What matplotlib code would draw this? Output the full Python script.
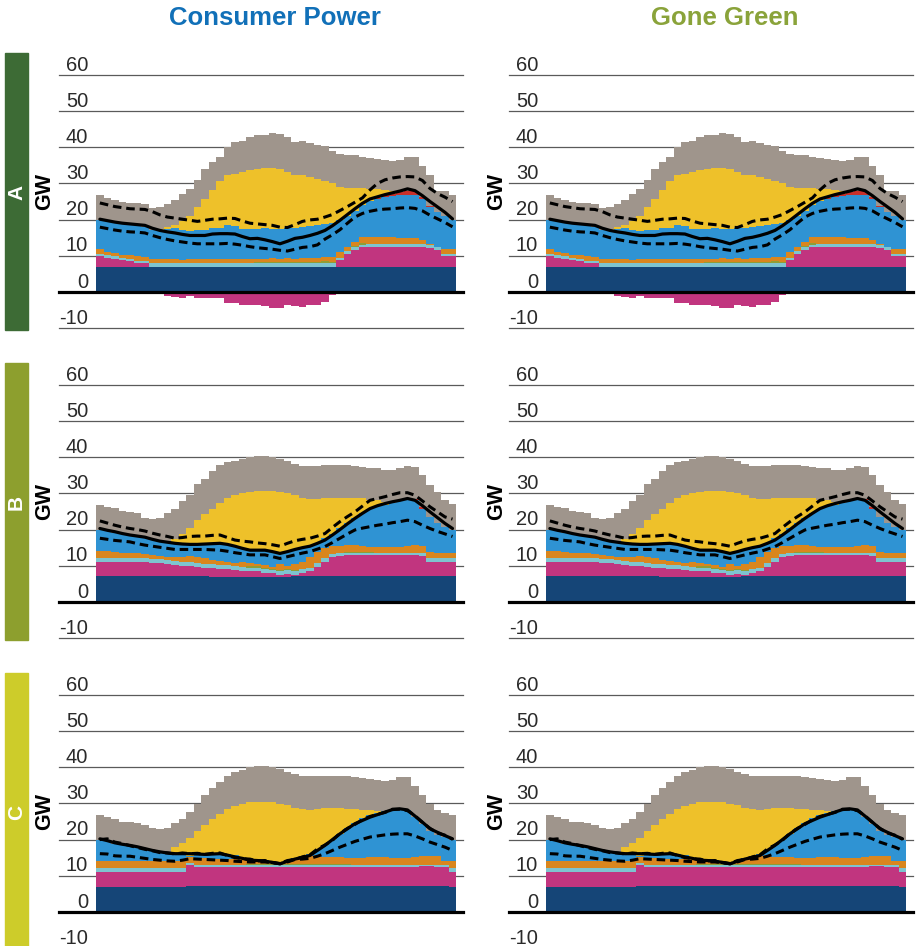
import numpy as np
import matplotlib
matplotlib.use("Agg")
from matplotlib import pyplot as plt
from matplotlib.patches import Rectangle

plt.rcParams["font.family"] = ["Liberation Sans", "DejaVu Sans"]

# ---- half-hour settlement periods
periods = np.arange(48)

scenarios = ["Consumer Power", "Gone Green"]
scenario_colors = ["#1170b8", "#8aa33a"]
rows = ["A", "B", "C"]
row_colors = ["#3d6b35", "#8d9f2e", "#cdcc2a"]
yticks = [-10, 0, 10, 20, 30, 40, 50, 60]

colors = {
    "nuclear": "#154577",
    "storage": "#c1357f",
    "interconnect": "#7ec4cf",
    "other": "#8f9d36",
    "gas": "#d9861e",
    "wind": "#2f93d3",
    "red": "#c8302a",
    "solar": "#eec12a",
    "extra": "#9f958c",
}

# ---------------- row A (tops of each layer, GW)
a_nuclear = [7.0] * 48
a_storage = [9.8, 9.5, 9.2, 8.7, 8.6, 8.0, 8.0] + [0] * 25 + \
    [8.7, 10.6, 11.7, 12.3, 12.4, 12.4, 12.4, 12.4, 12.4, 12.4, 12.4, 12.4, 12.2, 11.5, 9.8, 9.8]
a_interconnect = [10.4, 10.1, 9.8, 9.3, 9.2, 8.6, 8.6] + [8.0] * 25 + \
    [9.5, 11.4, 12.5, 13.1, 13.2, 13.2, 13.2, 13.2, 13.2, 13.2, 13.2, 13.2, 13.0, 12.3, 10.6, 10.6]
a_other = [0] * 21 + [0.2, 0.3, 0.3, 0.3, 0.2, 0.2, 0.3, 0.2, 0.3, 0.4, 0.2] + [0] * 2 + [0.3, 0.3] + [0] * 12
a_gas = [11.8, 11.0, 10.7, 10.2, 10.1, 9.9, 9.7, 9.0, 9.0, 9.1, 9.0, 8.9, 9.0, 9.1, 9.0, 9.0,
         9.1, 9.0, 9.2, 9.1, 9.0, 9.1, 9.2, 9.3, 9.2, 9.3, 9.2, 9.3, 9.4, 9.5, 9.6, 9.6,
         10.9, 12.4, 13.8, 15.3, 15.3, 15.2, 15.1, 15.1, 15.0, 15.0, 14.8, 14.4, 13.2, 12.3, 11.8, 11.8]
a_wind = [20.0, 19.6, 19.2, 19.0, 18.9, 18.4, 17.9, 17.2, 17.0, 17.5, 17.7, 17.0, 16.8, 17.0, 17.2, 17.7,
          17.6, 18.4, 18.1, 17.5, 17.5, 17.5, 17.7, 17.5, 17.5, 17.7, 17.7, 17.9, 18.1, 18.4, 18.9, 19.0,
          19.8, 21.1, 22.5, 23.9, 25.1, 25.7, 26.2, 26.4, 26.7, 26.9, 26.9, 25.7, 23.4, 22.1, 21.1, 20.0]
a_red = [0] * 37 + [0.3, 0.5, 0.7, 0.9, 1.0, 1.0, 0.6, 0.3] + [0] * 3
a_solar = [0] * 8 + [17.3, 17.9, 18.5, 19.6, 21.0, 23.6, 25.7, 28.3, 30.8, 32.2, 32.5, 33.2, 33.6, 33.9,
                     34.3, 34.3, 34.1, 33.3, 32.4, 32.2, 31.9, 31.3, 30.8, 30.2, 29.0, 28.8, 28.7, 28.6,
                     28.5, 28.4, 28.3, 28.0] + [0] * 8
a_total = [26.7, 26.0, 25.3, 25.0, 24.7, 24.6, 24.4, 23.3, 23.6, 24.2, 25.5, 27.1, 28.5, 31.0, 34.0, 35.9,
           37.4, 40.2, 41.6, 41.8, 42.9, 43.4, 43.5, 44.0, 43.7, 42.8, 41.6, 41.7, 41.2, 40.7, 40.3, 38.9,
           38.2, 38.0, 38.0, 37.4, 37.1, 36.8, 36.6, 36.3, 36.6, 37.4, 37.2, 34.9, 32.2, 28.0, 27.9, 26.9]
a_negative = [0] * 8 + [-0.6, -1.2, -1.4, -1.8, -1.2, -1.8, -1.8, -1.8, -1.8, -3.0, -3.0, -3.7, -3.5, -3.7,
                        -3.9, -4.4, -4.6, -3.7, -3.9, -4.1, -3.7, -3.5, -2.8, -0.9] + [0] * 16
a_demand = [20.1, 19.7, 19.3, 19.0, 18.8, 18.6, 18.4, 17.6, 17.0, 16.6, 16.3, 15.9, 15.6, 15.6, 15.6, 16.0,
            16.1, 16.1, 16.0, 15.3, 14.7, 14.8, 14.4, 13.9, 13.3, 14.0, 14.8, 15.1, 15.6, 16.2, 17.0, 18.3,
            19.8, 21.4, 23.0, 24.5, 25.7, 26.3, 26.9, 27.4, 27.9, 28.5, 28.0, 26.6, 25.0, 23.5, 22.0, 20.2]
a_upper = [24.6, 24.1, 23.6, 23.3, 23.0, 22.9, 22.8, 22.2, 21.3, 20.7, 20.4, 20.1, 19.8, 19.5, 19.8, 20.1,
           20.2, 20.4, 20.3, 19.6, 19.0, 18.8, 18.6, 18.4, 17.9, 17.8, 18.6, 19.5, 19.9, 20.1, 20.7, 21.4,
           22.5, 23.6, 24.8, 26.0, 28.2, 30.0, 31.0, 31.5, 31.8, 31.9, 31.8, 30.8, 28.6, 27.2, 26.2, 25.0]
a_lower = [17.9, 17.5, 17.1, 16.8, 16.6, 16.5, 16.3, 15.6, 15.0, 14.5, 14.1, 13.8, 13.5, 13.3, 13.3, 13.3,
           13.3, 13.4, 13.2, 12.9, 12.5, 12.2, 12.0, 11.8, 11.5, 11.3, 11.8, 12.3, 12.5, 13.0, 14.6, 15.8,
           17.2, 19.0, 20.7, 21.7, 22.3, 22.7, 22.9, 23.0, 23.2, 23.3, 23.1, 22.4, 21.2, 20.2, 19.2, 18.0]

# ---------------- row B
b_nuclear = [7.2] * 15 + [7.0] * 11 + [7.2] * 22
b_storage = [11.1, 11.1, 11.0, 11.0, 11.0, 11.0, 10.9, 10.8, 10.7, 10.5, 10.2, 9.9, 9.9, 9.7, 9.5, 9.3,
             9.0, 9.0, 8.8, 8.6, 8.4, 8.4, 8.1, 7.9, 7.4, 7.7, 7.4, 7.9, 8.4, 9.6, 11.1, 12.5,
             12.7, 12.9, 12.9, 12.9, 12.9, 12.9, 12.9, 12.9, 12.9, 12.9, 12.9, 12.7, 11.1, 11.1, 11.1, 11.1]
b_interconnect = [12.2, 12.2, 12.1, 12.1, 12.1, 12.1, 12.0, 11.9, 11.8, 11.6, 11.3, 11.0, 11.0, 10.8, 10.6, 10.4,
                  10.1, 10.1, 9.9, 9.7, 9.5, 9.5, 9.2, 8.9, 8.5, 8.8, 8.5, 9.0, 9.5, 10.7, 12.2, 13.3,
                  13.4, 13.6, 13.6, 13.6, 13.6, 13.6, 13.6, 13.6, 13.6, 13.6, 13.6, 13.4, 12.2, 12.2, 12.2, 12.2]
b_other = [0] * 20 + [0.3, 0.3, 0.3, 0.2, 0.3, 0.3, 0.2, 0.2] + [0] * 5 + [0.2, 0.2, 0.2, 0.2] + [0] * 11
b_gas = [14.1, 14.0, 13.7, 13.4, 13.4, 13.4, 13.2, 13.0, 12.7, 12.5, 12.3, 12.5, 12.7, 12.3, 12.0, 11.6,
         11.4, 11.1, 10.8, 11.1, 10.8, 10.5, 10.2, 9.7, 10.5, 9.9, 10.5, 11.1, 12.5, 13.9, 14.8, 15.4,
         15.4, 15.6, 15.6, 15.4, 15.2, 15.1, 15.1, 15.1, 15.1, 15.4, 15.7, 15.4, 13.9, 13.4, 13.4, 13.4]
b_wind = [20.0, 19.7, 19.1, 18.8, 18.7, 18.5, 17.7, 17.1, 16.6, 16.3, 16.2, 16.0, 15.7, 15.7, 15.9, 16.0,
          16.2, 16.0, 15.4, 14.8, 14.3, 14.3, 14.1, 13.9, 13.4, 14.1, 14.5, 14.8, 15.4, 16.4, 17.6, 18.9,
          20.3, 21.7, 23.1, 24.5, 25.8, 26.5, 26.9, 27.4, 28.0, 28.3, 28.1, 25.8, 23.5, 21.9, 20.8, 20.0]
b_red = [0] * 40 + [0.2, 0.3, 0.3, 0.4] + [0] * 4
b_solar = [0] * 9 + [16.6, 17.5, 18.9, 20.4, 22.6, 24.3, 25.8, 27.4, 28.6, 29.5, 30.0, 30.4, 30.7, 30.7,
                     30.6, 30.4, 30.2, 29.7, 28.8, 28.4, 28.4, 28.6, 28.8, 28.8, 28.8, 28.6, 28.6, 28.3,
                     28.1, 27.7] + [0] * 9
b_total = [26.8, 26.3, 25.9, 25.1, 24.9, 24.6, 23.3, 22.8, 23.3, 24.6, 25.8, 27.9, 29.7, 32.6, 34.1, 36.1,
           37.8, 38.7, 39.0, 39.6, 40.1, 40.3, 40.3, 40.1, 39.4, 39.0, 38.1, 37.5, 37.5, 37.5, 37.8, 37.8,
           37.8, 37.8, 37.6, 37.3, 37.0, 36.9, 36.6, 36.4, 36.9, 37.5, 37.3, 35.0, 32.3, 30.4, 28.1, 27.0]
b_negative = [0] * 48
b_demand = [20.3, 19.8, 19.4, 18.9, 18.5, 18.2, 17.9, 17.3, 16.8, 16.5, 16.2, 16.0, 15.9, 15.9, 16.0, 16.1,
            16.2, 15.9, 15.4, 14.8, 14.3, 14.3, 14.3, 13.9, 13.4, 13.9, 14.5, 15.0, 15.4, 16.2, 17.1, 18.5,
            20.0, 21.6, 23.1, 24.5, 25.8, 26.6, 27.2, 27.7, 28.1, 28.6, 28.1, 26.6, 24.9, 23.3, 21.7, 20.3]
b_upper = [22.4, 21.8, 21.2, 20.7, 20.3, 20.0, 19.6, 19.0, 18.5, 18.1, 17.6, 17.8, 18.1, 18.2, 18.2, 18.4,
           18.5, 17.8, 17.1, 16.8, 16.6, 16.3, 16.1, 15.8, 15.4, 16.2, 16.9, 17.3, 17.6, 18.2, 18.9, 20.6,
           22.2, 23.6, 24.9, 26.5, 28.1, 28.6, 29.1, 29.7, 30.2, 30.2, 29.5, 27.9, 26.3, 24.9, 23.5, 22.9]
b_lower = [17.6, 17.3, 17.0, 16.8, 16.6, 16.1, 15.7, 15.4, 15.1, 14.8, 14.5, 14.5, 14.5, 14.5, 14.5, 14.4,
           14.3, 14.0, 13.6, 13.3, 13.0, 13.0, 13.0, 12.5, 12.0, 12.5, 13.0, 13.5, 13.9, 14.6, 15.3, 16.4,
           17.6, 18.8, 19.9, 20.4, 20.8, 21.2, 21.5, 21.9, 22.2, 22.6, 22.2, 21.2, 20.3, 19.5, 18.8, 18.1]

# ---------------- row C
c_nuclear = [6.9] * 12 + [7.2] * 35 + [6.9]
c_storage = [11.0] * 12 + [12.9] + [12.4] * 30 + [12.6, 12.6, 12.4, 12.4] + [11.0]
c_interconnect = [12.1] * 12 + [13.5] + [13.1] * 34 + [12.1]
c_other = [0] * 20 + [0.2] * 14 + [0] * 14
c_gas = [14.0] * 12 + [15.2, 14.8, 14.8, 14.7, 14.7, 14.6, 14.6, 14.5, 14.4, 14.3, 14.1, 13.8, 13.6, 13.9,
                       14.6, 15.0, 15.4, 15.6, 15.2, 15.3, 15.2, 15.0, 15.0, 15.0, 15.1, 15.1, 15.1, 15.0,
                       15.0, 15.0, 15.1, 15.4, 15.4, 15.4] + [14.0, 14.0]
c_wind = [20.0, 19.5, 18.9, 18.4, 18.2, 18.1, 17.5, 16.7, 16.3, 16.1, 15.8, 15.6, 15.4, 15.6, 15.6, 15.8,
          16.1, 16.1, 15.6, 14.9, 14.6, 14.6, 14.3, 14.0, 13.8, 14.3, 14.9, 15.4, 16.1, 17.0, 18.6, 20.0,
          21.6, 23.2, 24.6, 25.9, 26.7, 27.4, 27.8, 28.3, 28.3, 28.1, 26.2, 24.4, 22.5, 21.3, 20.7, 20.0]
c_red = [0] * 48
c_solar = [0] * 9 + [16.3, 17.9, 19.1, 20.4, 22.5, 24.1, 25.7, 27.1, 28.5, 29.4, 29.9, 30.3, 30.5, 30.5,
                     30.3, 29.9, 29.7, 28.7, 28.5, 28.3, 28.5, 28.7, 28.7, 28.7, 28.5, 28.5, 28.3, 28.1,
                     27.8] + [0] * 10
c_total = [26.9, 26.2, 25.7, 25.0, 24.8, 24.6, 24.1, 23.2, 22.8, 23.2, 24.6, 25.7, 27.6, 29.9, 32.4, 34.2,
           36.0, 37.5, 38.8, 39.3, 40.0, 40.3, 40.3, 40.0, 39.5, 38.8, 38.2, 37.5, 37.5, 37.7, 37.7, 37.7,
           37.7, 37.5, 37.2, 37.0, 36.8, 36.5, 36.3, 36.6, 37.2, 37.2, 34.9, 32.4, 29.9, 28.3, 27.4, 26.9]
c_negative = [0] * 48
c_demand = [20.2, 19.7, 19.1, 18.7, 18.4, 18.0, 17.5, 17.0, 16.6, 16.3, 16.1, 16.1, 16.1, 16.0, 15.9, 16.0,
            16.1, 15.7, 15.2, 14.8, 14.3, 14.2, 14.0, 13.7, 13.3, 14.0, 14.6, 15.1, 15.6, 17.0, 18.4, 20.0,
            21.6, 23.0, 24.4, 25.3, 26.2, 26.9, 27.6, 28.3, 28.5, 28.2, 26.5, 24.8, 23.0, 22.0, 21.1, 20.2]
c_upper = [20.0, 20.2, 19.3, 18.9, 18.3, 17.8, 17.3, 16.9, 16.4, 16.3, 16.0, 16.3, 16.1, 16.2, 15.9, 16.2,
           16.3, 15.6, 15.0, 14.7, 14.6, 14.1, 14.2, 13.6, 13.4, 14.2, 14.5, 15.2, 15.8, 17.4, 18.5, 19.8,
           21.7, 23.1, 24.2, 25.5, 26.4, 27.0, 27.5, 28.4, 28.4, 28.0, 26.6, 24.7, 23.1, 21.8, 21.2, 20.1]
c_lower = [16.1, 16.0, 15.5, 15.4, 15.4, 15.1, 14.8, 14.5, 14.3, 14.1, 14.0, 14.3, 14.7, 14.6, 14.5, 14.4,
           14.3, 14.2, 14.0, 13.9, 13.8, 13.8, 13.8, 13.6, 13.3, 13.8, 14.5, 14.6, 14.8, 15.4, 16.1, 17.0,
           17.9, 18.7, 19.5, 20.1, 20.7, 21.0, 21.3, 21.5, 21.6, 21.6, 21.0, 20.2, 19.3, 18.6, 17.9, 17.0]

row_data = [
    dict(nuclear=a_nuclear, storage=a_storage, interconnect=a_interconnect, other=a_other, gas=a_gas,
         wind=a_wind, red=a_red, solar=a_solar, total=a_total, negative=a_negative,
         demand=a_demand, upper=a_upper, lower=a_lower),
    dict(nuclear=b_nuclear, storage=b_storage, interconnect=b_interconnect, other=b_other, gas=b_gas,
         wind=b_wind, red=b_red, solar=b_solar, total=b_total, negative=b_negative,
         demand=b_demand, upper=b_upper, lower=b_lower),
    dict(nuclear=c_nuclear, storage=c_storage, interconnect=c_interconnect, other=c_other, gas=c_gas,
         wind=c_wind, red=c_red, solar=c_solar, total=c_total, negative=c_negative,
         demand=c_demand, upper=c_upper, lower=c_lower),
]


def step(vals):
    v = np.asarray(vals, dtype=float)
    return np.append(v, v[-1])


def draw_panel(ax, d):
    edges = np.arange(49)
    t_nuc = np.asarray(d["nuclear"], float)
    t_sto = np.maximum(d["storage"], t_nuc)
    t_int = np.maximum(d["interconnect"], t_sto)
    t_oth = t_int + np.asarray(d["other"], float)
    t_gas = np.maximum(d["gas"], t_oth)
    t_wind = np.maximum(d["wind"], t_gas)
    t_red = t_wind + np.asarray(d["red"], float)
    t_sol = np.maximum(d["solar"], t_red)
    t_tot = np.maximum(d["total"], t_sol)
    layers = [
        (np.zeros(48), t_nuc, "nuclear"),
        (t_nuc, t_sto, "storage"),
        (t_sto, t_int, "interconnect"),
        (t_int, t_oth, "other"),
        (t_oth, t_gas, "gas"),
        (t_gas, t_wind, "wind"),
        (t_wind, t_red, "red"),
        (t_red, t_sol, "solar"),
        (t_sol, t_tot, "extra"),
        (np.asarray(d["negative"], float), np.zeros(48), "storage"),
    ]
    for lo, hi, key in layers:
        ax.fill_between(edges, step(lo), step(hi), step="post", color=colors[key],
                        linewidth=0, zorder=2)
    mid = periods + 0.5
    ax.plot(mid, d["demand"], color="black", lw=2.3, zorder=4, solid_capstyle="round")
    ax.plot(mid, d["upper"], color="black", lw=2.2, dashes=(2.8, 1.6), zorder=4)
    ax.plot(mid, d["lower"], color="black", lw=2.2, dashes=(2.8, 1.6), zorder=4)


W, H = 916, 946
fig = plt.figure(figsize=(W / 100, H / 100), dpi=100)

for r, d in enumerate(row_data):
    y60 = 75 + 310 * r
    ym10 = 328 + 310 * r
    for c in range(2):
        x0 = 59 + 450 * c
        ax = fig.add_axes([x0 / W, (H - ym10) / H, 404 / W, (ym10 - y60) / H])
        ax.set_xlim(-4.95, 48.9)
        ax.set_ylim(-10, 60)
        ax.set_axis_off()
        for v in yticks:
            if v == 0:
                ax.axhline(0, color="black", lw=2.3, zorder=5, clip_on=False)
            else:
                ax.axhline(v, color="#5a5a5a", lw=0.9, zorder=1, clip_on=False)
            ax.text(0.072, v + 1.2, str(v), transform=ax.get_yaxis_transform(),
                    ha="right", va="baseline", fontsize=14.5, color="#2a2a2a")
        draw_panel(ax, d)
        fig.text((45 + 452 * c) / W, 1 - (192 + 310 * r) / H, "GW", rotation=90,
                 ha="center", va="center", fontsize=15.5, fontweight="bold")

    top = 53 + 310 * r
    bot = min(330 + 310 * r, H)
    fig.patches.append(Rectangle((5 / W, 1 - bot / H), 23 / W, (bot - top) / H,
                                 transform=fig.transFigure, color=row_colors[r], zorder=0))
    fig.text(16.5 / W, 1 - (192 + 310 * r) / H, rows[r], rotation=90, ha="center", va="center",
             fontsize=15, fontweight="bold", color="white")

for c, name in enumerate(scenarios):
    fig.text((275 + 450 * c) / W, 1 - 18 / H, name, ha="center", va="center",
             fontsize=18.5, fontweight="bold", color=scenario_colors[c])

fig.savefig("out.png", dpi=100)
